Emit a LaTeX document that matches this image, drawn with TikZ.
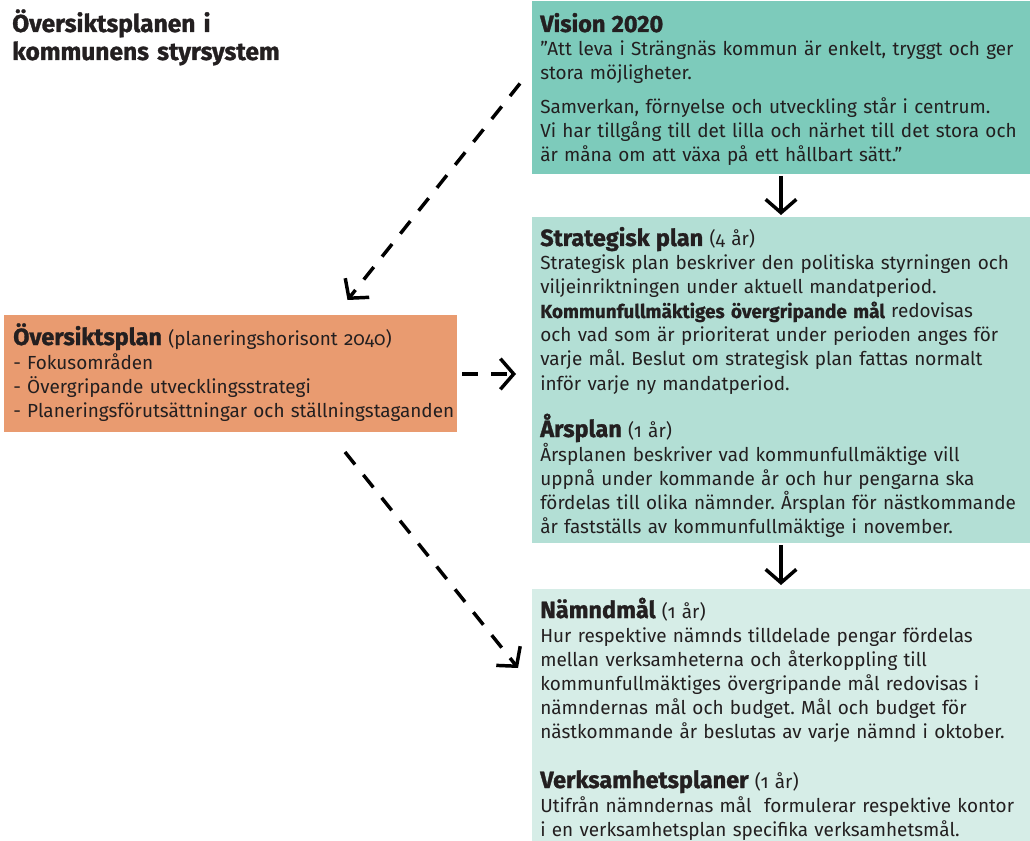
\documentclass[tikz,border=0pt]{standalone}
\usepackage{fontspec}
\setmainfont{Fira Sans}[Numbers=OldStyle]
\usetikzlibrary{arrows.meta,positioning,calc}

\definecolor{visionfarg}{RGB}{125,203,187}
\definecolor{strategifarg}{RGB}{179,223,213}
\definecolor{namndfarg}{RGB}{214,237,231}
\definecolor{oversiktfarg}{RGB}{233,155,112}
\definecolor{textfarg}{RGB}{35,31,32}

\newcommand{\rubrik}[1]{{\fontsize{17.6}{19}\selectfont\bfseries\addfontfeatures{Numbers=Lining,FakeBold=1.2}#1}}

\tikzset{
  ruta/.style={inner sep=0pt, outer sep=0pt, anchor=north west, draw=none},
  brodtext/.style={anchor=base west, inner sep=0pt, text width=440pt, align=left,
    text=textfarg, font=\fontsize{14.2}{18}\selectfont\frenchspacing},
  pil/.style={line width=2.6pt, -{Straight Barb[length=10pt, width=23pt]}},
  streckpil/.style={pil, dash pattern=on 12pt off 10pt},
}

\begin{document}
\begin{tikzpicture}[x=0.75pt, y=-0.75pt]
  \useasboundingbox (0,0) rectangle (1030,841);

  % Rubrik
  \node[brodtext, font=\fontsize{18.4}{21}\selectfont\bfseries\addfontfeatures{FakeBold=1.2}] (titel) at (12,32)
    {Översiktsplanen i\\kommunens styrsystem};

  % Rutorna
  \node[ruta, fill=visionfarg, minimum width=373.5pt, minimum height=129.75pt] (vision) at (532,1) {};
  \node[ruta, fill=strategifarg, minimum width=373.5pt, minimum height=244.5pt] (strategi) at (532,217) {};
  \node[ruta, fill=namndfarg, minimum width=373.5pt, minimum height=189pt] (namnd) at (532,589) {};
  \node[ruta, fill=oversiktfarg, minimum width=339.75pt, minimum height=87.75pt] (oversikt) at (4,315) {};

  % Texter i rutorna
  \node[brodtext] (visiontext) at (540,32)
    {\rubrik{Vision 2020}\\
     ”Att leva i Strängnäs kommun är enkelt, tryggt och ger\\
     stora möjligheter.\\[7pt]
     Samverkan, förnyelse och utveckling står i centrum.\\
     Vi har tillgång till det lilla och närhet till det stora och\\
     är måna om att växa på ett hållbart sätt.”};

  \node[brodtext] (strategitext) at (540,246)
    {\rubrik{Strategisk plan} (4 år)\\
     Strategisk plan beskriver den politiska styrningen och\\
     viljeinriktningen under aktuell mandatperiod.\\
     {\bfseries\addfontfeatures{FakeBold=0.8}Kommunfullmäktiges övergripande mål} redovisas\\
     och vad som är prioriterat under perioden anges för\\
     varje mål. Beslut om strategisk plan fattas normalt\\
     inför varje ny mandatperiod.};

  \node[brodtext] (arsplantext) at (540,437)
    {\rubrik{Årsplan} (1 år)\\
     Årsplanen beskriver vad kommunfullmäktige vill\\
     uppnå under kommande år och hur pengarna ska\\
     fördelas till olika nämnder. Årsplan för nästkommande\\
     år fastställs av kommunfullmäktige i november.};

  \node[brodtext] (namndtext) at (540,618)
    {\rubrik{Nämndmål} (1 år)\\
     Hur respektive nämnds tilldelade pengar fördelas\\
     mellan verksamheterna och återkoppling till\\
     kommunfullmäktiges övergripande mål redovisas i\\
     nämndernas mål och budget. Mål och budget för\\
     nästkommande år beslutas av varje nämnd i oktober.};

  \node[brodtext] (verksamhettext) at (540,788)
    {\rubrik{Verksamhetsplaner} (1 år)\\
     Utifrån nämndernas mål~ formulerar respektive kontor\\
     i en verksamhetsplan specifika verksamhetsmål.};

  \node[brodtext] (oversikttext) at (13,345)
    {\rubrik{Översiktsplan} (planeringshorisont 2040)\\
     - Fokusområden\\
     - Övergripande utvecklingsstrategi\\
     - Planeringsförutsättningar och ställningstaganden};

  % Pilar
  \draw[pil, shorten <=1.5pt, shorten >=1.5pt] (vision.south) -- (strategi.north);
  \draw[pil, shorten <=1.5pt, shorten >=3pt] (strategi.south) -- (namnd.north);
  \draw[streckpil] ([shift={(-12,-4)}]vision.west) -- ([shift={(117,-15)}]oversikt.north);
  \draw[streckpil] ([shift={(5,0.5)}]oversikt.east) -- ([shift={(-16,-6)}]strategi.west);
  \draw[streckpil] ([shift={(114.5,20)}]oversikt.south) -- ([shift={(-14,-47)}]namnd.west);
\end{tikzpicture}
\end{document}
